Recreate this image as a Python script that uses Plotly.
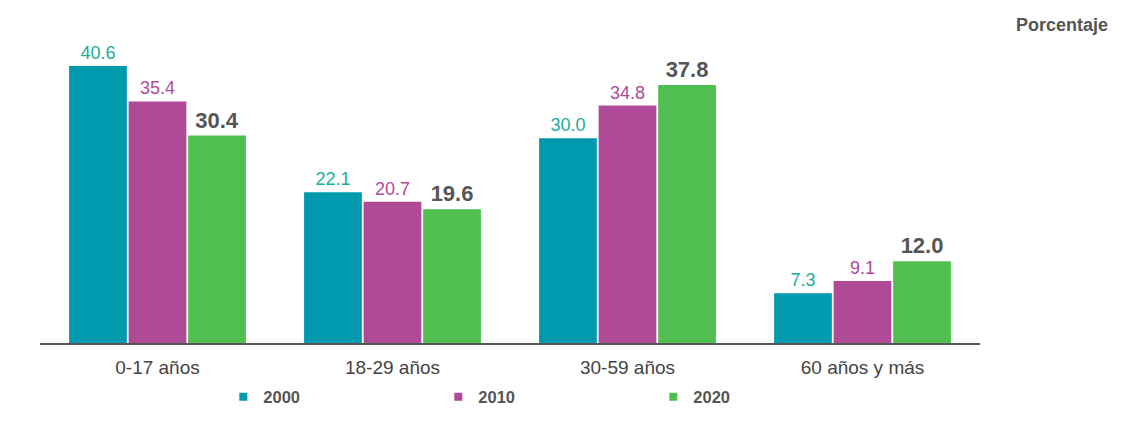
import plotly.graph_objects as go

categories = ["0-17 años", "18-29 años", "30-59 años", "60 años y más"]
years = ["2000", "2010", "2020"]
v2000 = [40.6, 22.1, 30.0, 7.3]
v2010 = [35.4, 20.7, 34.8, 9.1]
v2020 = [30.4, 19.6, 37.8, 12.0]

colors = ["#0099AE", "#AE4A96", "#50BE50"]
label_colors = ["#19AE9C", "#AE4A96", "#555555"]
label_sizes = [18, 18, 22]
label_bold = [False, False, True]

# page body has an 8px margin; compensate so plot lands where the reference has it
OFF = 8
AX_Y, TOP_Y, L_X, R_X = 343, 36, 40, 980
PLOT_H = AX_Y - TOP_Y

fig = go.Figure()
for name, vals, c, lc, ls, b in zip(years, [v2000, v2010, v2020], colors, label_colors, label_sizes, label_bold):
    fig.add_trace(go.Bar(
        x=categories, y=vals, name=name, showlegend=False,
        marker=dict(color=c, line=dict(width=0)),
        text=[f"{v:.1f}" for v in vals],
        textposition="outside",
        textfont=dict(color=lc, size=ls, family="Liberation Sans", weight="bold" if b else "normal"),
        cliponaxis=False,
    ))
# legend entries with small square markers
for name, c in zip(years, colors):
    fig.add_trace(go.Scatter(
        x=[None], y=[None], mode="markers", name=name,
        marker=dict(symbol="square", size=8, color=c),
    ))

fig.update_layout(
    width=1130, height=429,
    margin=dict(l=L_X - OFF, r=1130 - R_X + OFF, t=TOP_Y - OFF, b=429 - AX_Y + OFF),
    plot_bgcolor="white", paper_bgcolor="white",
    barmode="group", bargap=0.24, bargroupgap=0.03,
    font=dict(family="Liberation Sans", color="#444444"),
    xaxis=dict(showline=True, linecolor="#555555", linewidth=1.5, ticks="",
               tickfont=dict(size=19, color="#444444"), showgrid=False,
               ticklabelstandoff=6),
    yaxis=dict(range=[0, 45], visible=False, showgrid=False),
    showlegend=True,
    legend=dict(orientation="h", x=0.195, y=-54 / PLOT_H, xanchor="left", yanchor="middle",
                entrywidth=170, entrywidthmode="pixels",
                font=dict(size=16.5, color="#555555", weight="bold"),
                itemwidth=30, traceorder="normal"),
)
fig.add_annotation(text="<b>Porcentaje</b>", xref="paper", yref="paper",
                   x=(1110 - L_X) / (R_X - L_X), y=(AX_Y - 25) / PLOT_H, xanchor="right", yanchor="middle",
                   showarrow=False, font=dict(size=18, color="#555555"))

fig.write_html("out.html")
